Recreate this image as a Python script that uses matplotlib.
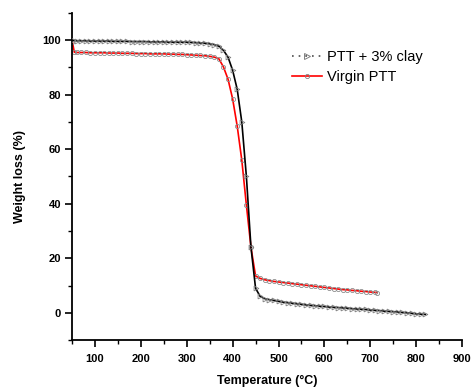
import matplotlib
matplotlib.use("Agg")
import matplotlib.pyplot as plt
from matplotlib.lines import Line2D
from matplotlib.ticker import MultipleLocator

plt.rcParams['font.family'] = ['Liberation Sans', 'DejaVu Sans']

# PTT + 3% clay
clay_T = [52, 60, 70, 80, 90, 100, 110, 120, 130, 140, 150, 160, 170, 180, 190,
          200, 210, 220, 230, 240, 250, 260, 270, 280, 290, 300, 310, 320, 330,
          340, 350, 360, 370, 380, 390, 400, 410, 420, 430, 440, 450, 460, 470,
          480, 490, 500, 510, 520, 530, 540, 550, 560, 570, 580, 590, 600, 610,
          620, 630, 640, 650, 660, 670, 680, 690, 700, 710, 720, 730, 740, 750,
          760, 770, 780, 790, 800, 810, 820]
clay_W = [100.0, 99.8, 99.8, 99.8, 99.7, 99.7, 99.7, 99.7, 99.7, 99.6, 99.6,
          99.6, 99.6, 99.5, 99.5, 99.5, 99.5, 99.4, 99.4, 99.4, 99.4, 99.3,
          99.3, 99.3, 99.3, 99.3, 99.2, 99.1, 99.0, 98.9, 98.7, 98.4, 97.8,
          96.3, 93.8, 89.0, 82.0, 70.0, 50.0, 24.0, 9.0, 6.0, 5.2, 4.8, 4.5,
          4.2, 3.9, 3.7, 3.5, 3.3, 3.1, 2.9, 2.7, 2.6, 2.4, 2.3, 2.1, 2.0, 1.9,
          1.8, 1.7, 1.5, 1.4, 1.3, 1.2, 1.0, 0.9, 0.8, 0.6, 0.5, 0.4, 0.3, 0.1,
          0.0, -0.2, -0.4, -0.5, -0.6]

# Virgin PTT
virgin_T = [51, 55, 60, 70, 80, 90, 100, 110, 120, 130, 140, 150, 160, 170, 180,
            190, 200, 210, 220, 230, 240, 250, 260, 270, 280, 290, 300, 310,
            320, 330, 340, 350, 360, 370, 380, 390, 400, 410, 420, 430, 440,
            450, 460, 470, 480, 490, 500, 510, 520, 530, 540, 550, 560, 570,
            580, 590, 600, 610, 620, 630, 640, 650, 660, 670, 680, 690, 700,
            710, 715]
virgin_W = [99.2, 95.6, 95.5, 95.5, 95.5, 95.4, 95.4, 95.4, 95.4, 95.3, 95.3,
            95.3, 95.2, 95.2, 95.2, 95.1, 95.1, 95.1, 95.0, 95.0, 95.0, 95.0,
            94.9, 94.9, 94.8, 94.8, 94.7, 94.6, 94.5, 94.4, 94.3, 94.1, 93.8,
            93.2, 90.2, 85.7, 78.5, 68.5, 56.0, 39.5, 24.0, 13.5, 12.6, 12.1,
            11.8, 11.5, 11.3, 11.1, 10.9, 10.7, 10.5, 10.3, 10.1, 9.9, 9.7,
            9.5, 9.3, 9.1, 8.9, 8.7, 8.5, 8.4, 8.2, 8.1, 7.9, 7.8, 7.6, 7.5, 7.4]

labels = ['PTT + 3% clay', 'Virgin PTT']

fig = plt.figure(figsize=(4.71, 3.91), dpi=100)
ax = fig.add_axes([0.1529, 0.1304, 0.8281, 0.8364])

ax.plot(clay_T, clay_W, color='black', lw=1.2, marker='>', ms=3.5,
        mfc='none', mec='0.5', mew=0.6, zorder=3)
ax.plot(virgin_T, virgin_W, color='red', lw=1.2, marker='o', ms=3,
        mfc='none', mec='0.55', mew=0.6, zorder=2)

ax.set_xlim(50, 900)
ax.set_ylim(-10, 110)
ax.xaxis.set_major_locator(MultipleLocator(100))
ax.xaxis.set_minor_locator(MultipleLocator(50))
ax.yaxis.set_major_locator(MultipleLocator(20))
ax.yaxis.set_minor_locator(MultipleLocator(10))
ax.set_xticks([100, 200, 300, 400, 500, 600, 700, 800, 900])
ax.set_yticks([0, 20, 40, 60, 80, 100])

for s in ['top', 'right']:
    ax.spines[s].set_visible(False)
for s in ['left', 'bottom']:
    ax.spines[s].set_linewidth(1.3)

ax.tick_params(which='major', direction='out', length=5, width=1.2,
               labelsize=8, pad=3)
ax.tick_params(which='minor', direction='out', length=3, width=1.0)
for lab in ax.get_xticklabels() + ax.get_yticklabels():
    lab.set_fontweight('bold')
ax.tick_params(axis='x', which='major', pad=5)

ax.set_xlabel('Temperature (°C)', fontsize=9, fontweight='bold', labelpad=8)
ax.set_ylabel('Weight loss (%)', fontsize=9, fontweight='bold', labelpad=12)

handles = [
    Line2D([], [], color='0.3', lw=1.2, ls=(0, (1, 3)), marker='>', ms=4,
           mfc='none', mec='0.5', mew=0.7),
    Line2D([], [], color='red', lw=1.2, marker='o', ms=3,
           mfc='none', mec='0.5', mew=0.6),
]
ax.legend(handles, labels, loc='upper left', bbox_to_anchor=(0.548, 0.905),
          frameon=False, fontsize=10.5, handlelength=2.1, handletextpad=0.3,
          labelspacing=0.4, borderaxespad=0)

fig.savefig('out.png', dpi=100)
